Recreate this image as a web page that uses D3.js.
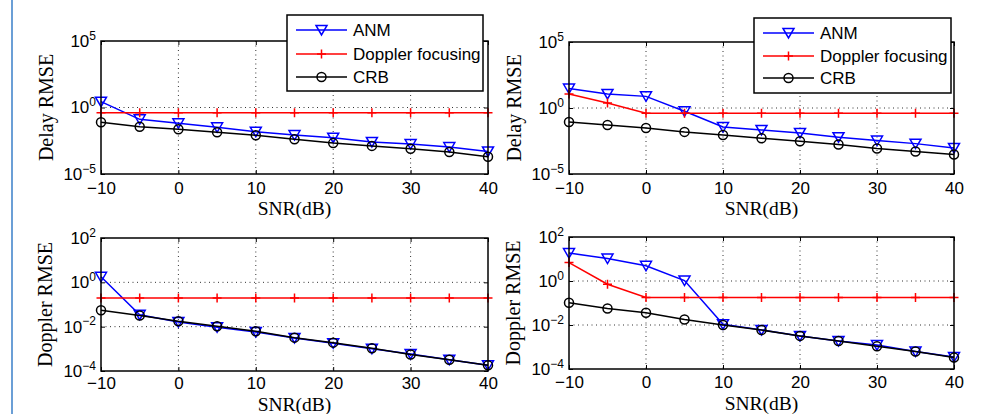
<!DOCTYPE html>
<html><head><meta charset="utf-8">
<script src="https://cdn.jsdelivr.net/npm/d3@7/dist/d3.min.js"></script>
<style>body{margin:0;background:#fff}svg{display:block}</style>
</head><body><svg id="c" width="983" height="414"></svg>
<script>
const snr = [-10,-5,0,5,10,15,20,25,30,35,40];
const xTicks = [-10,0,10,20,30,40];
const seriesNames = ["ANM","Doppler focusing","CRB"];

// Panel A: Delay RMSE (left)
const delayA_ANM = [2.75,0.129,0.0646,0.0324,0.0151,0.0085,0.0054,0.0026,0.0018,0.00107,0.0005];
const delayA_DF  = [0.41,0.41,0.41,0.41,0.41,0.41,0.41,0.41,0.41,0.41,0.41];
const delayA_CRB = [0.078,0.036,0.023,0.0138,0.0081,0.0041,0.0021,0.0013,0.00079,0.00045,0.0002];
// Panel B: Delay RMSE (right)
const delayB_ANM = [29.5,11.5,7.6,0.56,0.036,0.022,0.0129,0.0062,0.0034,0.002,0.00095];
const delayB_DF  = [11.5,2.4,0.4,0.4,0.4,0.4,0.4,0.4,0.4,0.4,0.4];
const delayB_CRB = [0.087,0.052,0.031,0.0155,0.0091,0.0051,0.003,0.0017,0.00085,0.0005,0.0003];
// Panel C: Doppler RMSE (left)
const dopC_ANM = [1.78,0.0347,0.0162,0.0095,0.0058,0.0031,0.00178,0.001,0.00059,0.00032,0.00018];
const dopC_DF  = [0.195,0.195,0.195,0.195,0.195,0.195,0.195,0.195,0.195,0.195,0.195];
const dopC_CRB = [0.055,0.032,0.0174,0.0105,0.0062,0.0032,0.0019,0.00105,0.00056,0.00032,0.00018];
// Panel D: Doppler RMSE (right)
const dopD_ANM = [18.6,10.5,4.9,1.05,0.0107,0.006,0.0032,0.00186,0.00123,0.00062,0.00035];
const dopD_DF  = [6.9,0.71,0.178,0.178,0.178,0.178,0.178,0.178,0.178,0.178,0.178];
const dopD_CRB = [0.102,0.056,0.036,0.0178,0.01,0.0059,0.0032,0.00186,0.00107,0.00062,0.00033];

const delayTicks = [1e-5,1,1e5];
const dopTicks = [1e-4,1e-2,1,1e2];

const svg = d3.select("#c");
svg.append("line").attr("x1",12).attr("x2",12).attr("y1",0).attr("y2",414)
  .attr("stroke","#6b9fd6").attr("stroke-width",2);

const colors = ["#0000ff","#ff0000","#000000"];
const SANS = "'Liberation Sans', Arial, sans-serif";
const SERIF = "'Liberation Serif', 'Times New Roman', serif";

const panels = [
  {l:101,r:488,t:41,b:174, dom:[1e-5,1e5], ticks:delayTicks, data:[delayA_ANM,delayA_DF,delayA_CRB], ylab:"Delay RMSE", ylx:53, xlY:215, pad:8, legend:{x:287,y:15,w:196,h:76,rows:[15,39,62]}},
  {l:569,r:954,t:42,b:174, dom:[1e-5,1e5], ticks:delayTicks, data:[delayB_ANM,delayB_DF,delayB_CRB], ylab:"Delay RMSE", ylx:521, xlY:215, pad:8, legend:{x:754,y:18,w:197,h:75,rows:[15,38,60]}},
  {l:101,r:488,t:238,b:371, dom:[1e-4,1e2], ticks:dopTicks, data:[dopC_ANM,dopC_DF,dopC_CRB], ylab:"Doppler RMSE", ylx:52, xlY:411, pad:6},
  {l:569,r:954,t:237,b:369, dom:[1e-4,1e2], ticks:dopTicks, data:[dopD_ANM,dopD_DF,dopD_CRB], ylab:"Doppler RMSE", ylx:520, xlY:410, pad:7}
];

function marker(g, kind, x, y){
  if(kind===0){
    g.append("path").attr("d",`M${x-5.5},${y-4.5}L${x+5.5},${y-4.5}L${x},${y+5}Z`)
      .attr("fill","none").attr("stroke",colors[0]).attr("stroke-width",1.5);
  } else if(kind===1){
    g.append("path").attr("d",`M${x-4.5},${y}L${x+4.5},${y}M${x},${y-4.5}L${x},${y+4.5}`)
      .attr("stroke",colors[1]).attr("stroke-width",1.5);
  } else {
    g.append("circle").attr("cx",x).attr("cy",y).attr("r",4.5)
      .attr("fill","none").attr("stroke",colors[2]).attr("stroke-width",1.5);
  }
}

function supFmt(sel){
  sel.selectAll(".tick text").each(function(d){
    const e = Math.round(Math.log10(d));
    const t = d3.select(this);
    t.text(null);
    t.append("tspan").text("10");
    t.append("tspan").attr("dy","-0.62em").attr("font-size","12px").text(e<0 ? "\u2212"+(-e) : String(e));
  });
}

panels.forEach(p=>{
  const x = d3.scaleLinear().domain([-10,40]).range([p.l,p.r]);
  const y = d3.scaleLog().domain(p.dom).range([p.b,p.t]);
  const g = svg.append("g");

  const grid = g.append("g").attr("stroke","#333").attr("stroke-width",1).attr("stroke-dasharray","1,3.5");
  xTicks.slice(1,-1).forEach(v=>grid.append("line").attr("x1",x(v)).attr("x2",x(v)).attr("y1",p.t).attr("y2",p.b));
  p.ticks.slice(1,-1).forEach(v=>grid.append("line").attr("x1",p.l).attr("x2",p.r).attr("y1",y(v)).attr("y2",y(v)));

  g.append("g").attr("transform",`translate(0,${p.b})`)
    .call(d3.axisBottom(x).tickValues(xTicks).tickSize(-4).tickPadding(p.pad).tickSizeOuter(0)
      .tickFormat(d=> d<0 ? "\u2212"+(-d) : String(d)));
  g.append("g").attr("transform",`translate(0,${p.t})`)
    .call(d3.axisTop(x).tickValues(xTicks).tickSize(-4).tickSizeOuter(0).tickFormat(()=>""));
  const ya = g.append("g").attr("transform",`translate(${p.l},0)`)
    .call(d3.axisLeft(y).tickValues(p.ticks).tickSize(-4).tickPadding(5).tickSizeOuter(0).tickFormat(()=>""));
  supFmt(ya);
  g.append("g").attr("transform",`translate(${p.r},0)`)
    .call(d3.axisRight(y).tickValues(p.ticks).tickSize(-4).tickSizeOuter(0).tickFormat(()=>""));
  g.selectAll(".domain").remove();
  g.selectAll(".tick line").attr("stroke","#000").attr("stroke-width",1);
  g.selectAll(".tick text").attr("font-family",SANS).attr("font-size","17px").attr("fill","#000");

  const line = d3.line().x((d,i)=>x(snr[i])).y(d=>y(d));
  p.data.forEach((arr,k)=>{
    g.append("path").datum(arr).attr("d",line).attr("fill","none")
      .attr("stroke",colors[k]).attr("stroke-width",1.5);
    arr.forEach((v,i)=>marker(g,k,x(snr[i]),y(v)));
  });

  g.append("rect").attr("x",p.l).attr("y",p.t).attr("width",p.r-p.l).attr("height",p.b-p.t)
    .attr("fill","none").attr("stroke","#000").attr("stroke-width",1.5);

  g.append("text").attr("x",(p.l+p.r)/2).attr("y",p.xlY).attr("text-anchor","middle")
    .attr("font-family",SERIF).attr("font-size","19.5px").text("SNR(dB)");
  g.append("text").attr("transform",`translate(${p.ylx},${(p.t+p.b)/2}) rotate(-90)`)
    .attr("text-anchor","middle").attr("font-family",SERIF).attr("font-size","20px").text(p.ylab);

  if(p.legend){
    const L = p.legend;
    const lg = svg.append("g");
    lg.append("rect").attr("x",L.x).attr("y",L.y).attr("width",L.w).attr("height",L.h)
      .attr("fill","#fff").attr("stroke","#000").attr("stroke-width",1.5);
    seriesNames.forEach((n,k)=>{
      const yy = L.y+L.rows[k];
      lg.append("line").attr("x1",L.x+9).attr("x2",L.x+60).attr("y1",yy).attr("y2",yy)
        .attr("stroke",colors[k]).attr("stroke-width",1.5);
      marker(lg,k,L.x+34.5,yy);
      lg.append("text").attr("x",L.x+66).attr("y",yy).attr("dy","0.35em")
        .attr("font-family",SANS).attr("font-size","17px").text(n);
    });
  }
});
</script></body></html>
